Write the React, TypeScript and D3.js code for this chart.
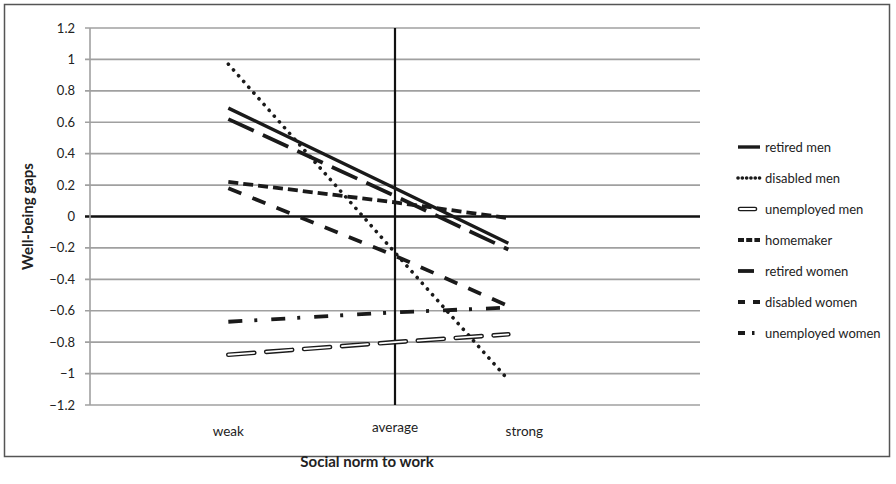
import React from "react";
import * as d3 from "d3";

const categories = ["weak", "average", "strong"];
const categoryX = [-1, 0, 0.68];
const yTicks = [1.2, 1, 0.8, 0.6, 0.4, 0.2, 0, -0.2, -0.4, -0.6, -0.8, -1, -1.2];

const seriesNames = [
  "retired men",
  "disabled men",
  "unemployed men",
  "homemaker",
  "retired women",
  "disabled women",
  "unemployed women",
];
const retiredMen = [0.69, 0.18, -0.17];
const disabledMen = [0.97, -0.23, -1.04];
const unemployedMen = [-0.88, -0.8, -0.75];
const homemaker = [0.22, 0.09, -0.01];
const retiredWomen = [0.62, 0.13, -0.21];
const disabledWomen = [0.18, -0.25, -0.57];
const unemployedWomen = [-0.67, -0.61, -0.58];
const seriesValues = [retiredMen, disabledMen, unemployedMen, homemaker, retiredWomen, disabledWomen, unemployedWomen];

type Style = { dash?: string; legendDash?: string; cap?: "round" | "butt"; width: number; hollow?: boolean };
const styles: Style[] = [
  { width: 3.4 },
  { dash: "0.1 7.6", legendDash: "0.1 4.2", cap: "round", width: 3.6 },
  { dash: "26 12", legendDash: "15 20", width: 4.6, hollow: true },
  { dash: "10 5", legendDash: "6 2.2", width: 3.8 },
  { dash: "28 10", legendDash: "16 20", width: 3.8 },
  { dash: "14 12", legendDash: "7 8", width: 3.8 },
  { dash: "14 12 3 14", legendDash: "7 7 2.5 8", width: 3.8 },
];

const FONT = "Lato, 'Open Sans', sans-serif";

export default function App() {
  const W = 896, H = 484;
  const left = 90, right = 700, top = 28, bottom = 405;
  const x = d3.scaleLinear().domain([-1.83, 1.83]).range([left, right]);
  const y = d3.scaleLinear().domain([-1.2, 1.2]).range([bottom, top]);
  const line = d3.line<number>().x((_, i) => x(categoryX[i])).y((v) => y(v));

  const legendX = 738, legendY0 = 147, legendStep = 31;

  const drawPath = (d: string, s: Style, key: string, legend = false) => {
    const dash = legend ? s.legendDash || s.dash : s.dash;
    if (s.hollow) {
      return (
        <g key={key}>
          <path d={d} fill="none" stroke="#1a1a1a" strokeWidth={s.width} strokeDasharray={dash} strokeLinecap="round" />
          <path d={d} fill="none" stroke="#fff" strokeWidth={1.8} strokeDasharray={dash} strokeLinecap="round" />
        </g>
      );
    }
    return (
      <path key={key} d={d} fill="none" stroke="#1a1a1a" strokeWidth={s.width}
        strokeDasharray={dash} strokeLinecap={s.cap || "butt"} />
    );
  };

  return (
    <svg width={W} height={H} style={{ display: "block", position: "absolute", left: 0, top: 0 }}>
      <rect x={0} y={0} width={W} height={H} fill="#fff" />
      <rect x={4.5} y={4.5} width={885} height={452} fill="none" stroke="#555" strokeWidth={1.5} />
      {yTicks.map((t) => (
        <line key={"g" + t} x1={left - 5} x2={right} y1={y(t)} y2={y(t)}
          stroke={t === 0 ? "#111" : "#a0a0a0"} strokeWidth={t === 0 ? 2.5 : 1.6} />
      ))}
      <line x1={left} x2={left} y1={top} y2={bottom} stroke="#a0a0a0" strokeWidth={1.6} />
      <line x1={x(0)} x2={x(0)} y1={top} y2={bottom} stroke="#111" strokeWidth={2.2} />
      {yTicks.map((t) => (
        <text key={"t" + t} x={left - 15} y={y(t)} dy="0.35em" textAnchor="end"
          fontFamily={FONT} fontSize={13} fill="#222">{d3.format("")(t)}</text>
      ))}
      <text transform={`translate(33,${y(0)}) rotate(-90)`} textAnchor="middle" fontFamily={FONT}
        fontSize={15} fontWeight="bold" fill="#222">Well-being gaps</text>
      {categories.map((c, i) => (
        <text key={c} x={x(categoryX[i]) + (i === 2 ? 16 : 0)} y={i === 1 ? 432 : 436} textAnchor="middle"
          fontFamily={FONT} fontSize={13.5} fill="#222">{c}</text>
      ))}
      <text x={367} y={467} textAnchor="middle" fontFamily={FONT} fontSize={15} fontWeight="bold" fill="#222">
        Social norm to work
      </text>
      {seriesValues.map((vals, i) => drawPath(line(vals) as string, styles[i], "s" + i))}
      {seriesNames.map((n, i) => {
        const ly = legendY0 + i * legendStep;
        const pad = styles[i].hollow ? 2 : 0;
        return (
          <g key={"l" + i}>
            {drawPath(`M${legendX + pad},${ly}L${legendX + 22},${ly}`, styles[i], "lp" + i, true)}
            <text x={legendX + 27} y={ly} dy="0.35em" fontFamily={FONT} fontSize={13} fill="#222">{n}</text>
          </g>
        );
      })}
    </svg>
  );
}
